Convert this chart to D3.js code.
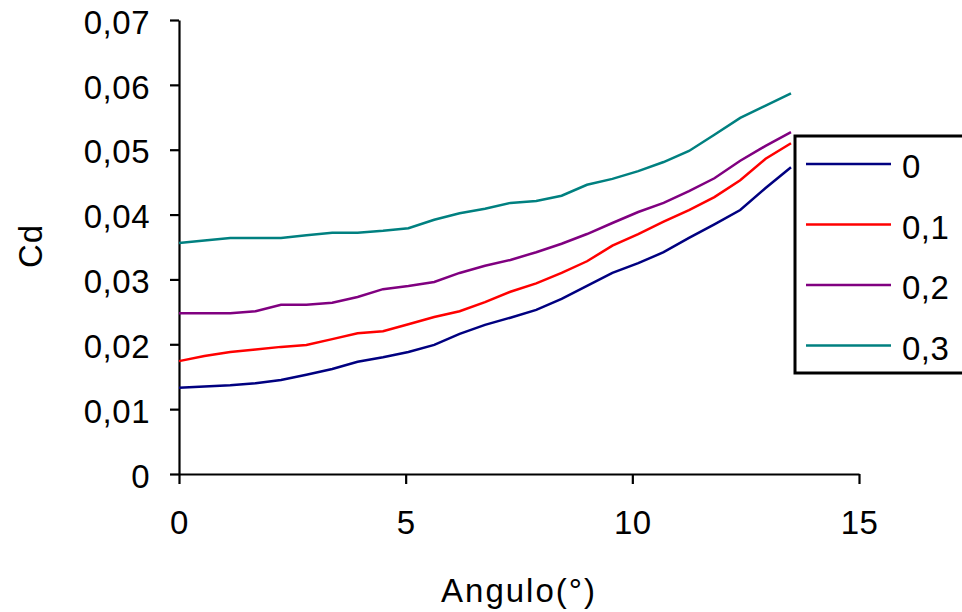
<!DOCTYPE html>
<html>
<head>
<meta charset="utf-8">
<script src="https://cdn.jsdelivr.net/npm/d3@7"></script>
<style>
  body { margin: 0; background: #ffffff; }
  text { font-family: Arial, "Liberation Sans", sans-serif; fill: #000; }
</style>
</head>
<body>
<script>
let width = 962
let height = 612

// angulo (graus)
let angulo = [0, 0.56, 1.13, 1.69, 2.25, 2.81, 3.38, 3.94, 4.5, 5.06, 5.63, 6.19, 6.75,
  7.31, 7.88, 8.44, 9, 9.56, 10.13, 10.69, 11.25, 11.81, 12.38, 12.94, 13.5]

let series = ["0", "0,1", "0,2", "0,3"]
let colors = ["#000080", "#ff0000", "#800080", "#008080"]

let cd0 = [0.0133, 0.0135, 0.0137, 0.0140, 0.0145, 0.0153, 0.0162, 0.0173, 0.0180, 0.0188,
  0.0199, 0.0216, 0.0230, 0.0241, 0.0253, 0.0270, 0.0290, 0.0310, 0.0325, 0.0342,
  0.0364, 0.0385, 0.0407, 0.0441, 0.0473]
let cd1 = [0.0174, 0.0182, 0.0188, 0.0192, 0.0196, 0.0199, 0.0208, 0.0217, 0.0220, 0.0231,
  0.0242, 0.0251, 0.0265, 0.0281, 0.0294, 0.0310, 0.0328, 0.0352, 0.0370, 0.0389,
  0.0407, 0.0427, 0.0453, 0.0486, 0.0510]
let cd2 = [0.0248, 0.0248, 0.0248, 0.0251, 0.0261, 0.0261, 0.0264, 0.0273, 0.0285, 0.0290,
  0.0296, 0.0310, 0.0321, 0.0330, 0.0342, 0.0355, 0.0370, 0.0387, 0.0404, 0.0418,
  0.0436, 0.0456, 0.0483, 0.0506, 0.0527]
let cd3 = [0.0356, 0.0360, 0.0364, 0.0364, 0.0364, 0.0368, 0.0372, 0.0372, 0.0375, 0.0379,
  0.0392, 0.0402, 0.0409, 0.0418, 0.0421, 0.0429, 0.0446, 0.0455, 0.0467, 0.0481,
  0.0498, 0.0523, 0.0549, 0.0568, 0.0587]

let xTicks = [0, 5, 10, 15]
let yTicks = [0, 0.01, 0.02, 0.03, 0.04, 0.05, 0.06, 0.07]

let allCd = [cd0, cd1, cd2, cd3]

let svg = d3.select("body")
  .append("svg")
  .attr("width", width)
  .attr("height", height)
  .style("background", "#ffffff")

let x = d3.scaleLinear().domain([0, 15]).range([179, 859])
let y = d3.scaleLinear().domain([0, 0.07]).range([474, 20])

let comma = d => String(d).replace(".", ",")

// eixo y
let gy = svg.append("g")
  .attr("transform", "translate(179,0)")
  .call(d3.axisLeft(y).tickValues(yTicks).tickSize(9).tickSizeOuter(0).tickPadding(20).tickFormat(d => comma(+d.toFixed(2))))
gy.select(".domain").attr("stroke-width", 2.2)
gy.selectAll(".tick line").attr("stroke-width", 2.2)
gy.selectAll(".tick text")
  .attr("font-size", 33)
  .attr("letter-spacing", 0.5)
  .attr("font-family", "Arial, 'Liberation Sans', sans-serif")
  .attr("dy", "0.4em")

// eixo x
let gx = svg.append("g")
  .attr("transform", "translate(0,474)")
  .call(d3.axisBottom(x).tickValues(xTicks).tickSize(10).tickSizeOuter(0).tickPadding(27).tickFormat(d => d))
gx.select(".domain").attr("stroke-width", 2.2)
gx.selectAll(".tick line").attr("stroke-width", 2.2)
gx.selectAll(".tick text")
  .attr("font-size", 33)
  .attr("letter-spacing", 0.5)
  .attr("font-family", "Arial, 'Liberation Sans', sans-serif")

// linhas
let line = d3.line()
  .x((d, i) => x(angulo[i]))
  .y(d => y(d))

for (let s = 0; s < allCd.length; s++) {
  svg.append("path")
    .datum(allCd[s])
    .attr("d", line)
    .attr("fill", "none")
    .attr("stroke", colors[s])
    .attr("stroke-width", 2.5)
}

// titulos
svg.append("text")
  .attr("x", 519)
  .attr("y", 602)
  .attr("text-anchor", "middle")
  .attr("font-size", 33)
  .attr("letter-spacing", 2)
  .text("Angulo(°)")

svg.append("text")
  .attr("transform", "translate(42,246) rotate(-90)")
  .attr("text-anchor", "middle")
  .attr("font-size", 33)
  .attr("letter-spacing", 1)
  .text("Cd")

// legenda
let legend = svg.append("g")

legend.append("rect")
  .attr("x", 795)
  .attr("y", 136)
  .attr("width", 180)
  .attr("height", 237)
  .attr("fill", "#ffffff")
  .attr("stroke", "#000")
  .attr("stroke-width", 3)

let rows = legend.selectAll("g.row")
  .data(series)
  .enter()
  .append("g")
  .attr("class", "row")
  .attr("transform", (d, i) => "translate(0," + (164 + i * 60.5) + ")")

rows.append("line")
  .attr("x1", 806)
  .attr("x2", 891)
  .attr("stroke", (d, i) => colors[i])
  .attr("stroke-width", 2.5)

rows.append("text")
  .attr("x", 902)
  .attr("y", 14)
  .attr("font-size", 33)
  .attr("letter-spacing", 0.5)
  .text(d => d)
</script>
</body>
</html>
